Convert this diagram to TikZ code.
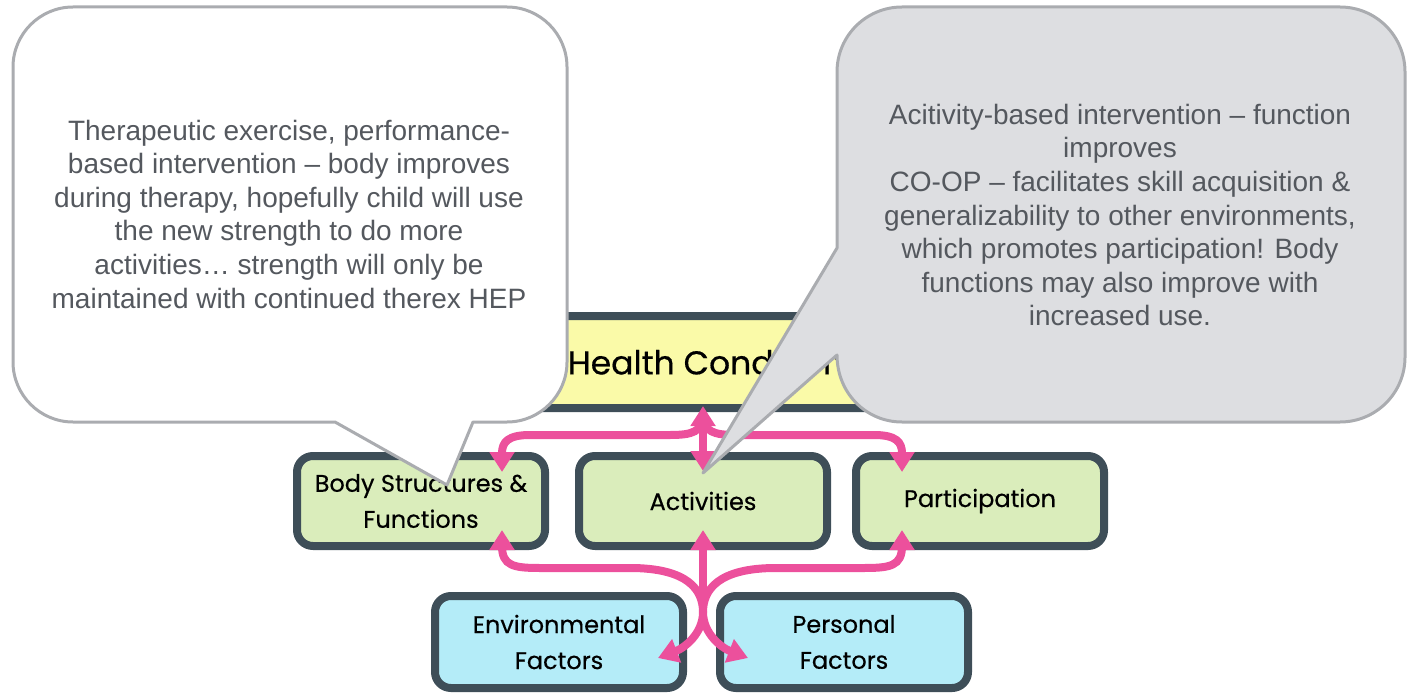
\documentclass[tikz,border=0pt]{standalone}
\usepackage{fontspec}
\setmainfont{Liberation Sans}
\newfontfamily\boxfont[FakeBold=0.4]{Poppins}
\usetikzlibrary{arrows.meta,calc}
\definecolor{dk}{RGB}{62,78,88}
\definecolor{pk}{RGB}{236,80,156}
\definecolor{gf}{RGB}{218,237,187}
\definecolor{bf}{RGB}{180,236,248}
\definecolor{yf}{RGB}{250,250,168}
\definecolor{cg}{RGB}{221,222,225}
\definecolor{cb}{RGB}{170,172,176}
\definecolor{ct}{RGB}{84,88,94}
\begin{document}
\begin{tikzpicture}[x=0.5pt,y=-0.5pt,
  icfbox/.style={draw=dk, line width=4pt, rounded corners=8pt, minimum width=124pt,
    minimum height=45pt, inner sep=0pt, align=center,
    font=\boxfont\fontsize{12}{18}\selectfont},
  greenbox/.style={icfbox, fill=gf},
  bluebox/.style={icfbox, fill=bf},
  parrow/.style={draw=pk, line width=4pt, -{Triangle[width=12pt,length=10pt]}},
  pboth/.style={draw=pk, line width=4pt, {Triangle[width=12pt,length=10pt]}-{Triangle[width=12pt,length=10pt]}},
  callout/.style={draw=cb, line width=1.5pt, line join=round},
  calltext/.style={text=ct, align=center, font=\fontsize{14}{16.8}\selectfont, inner sep=0pt}
]
\useasboundingbox (0,0) rectangle (1412,700);

% boxes
\node[icfbox, fill=yf, minimum width=172pt, minimum height=46pt, rounded corners=4pt,
  font=\boxfont\fontsize{16.5}{20}\selectfont] (hc) at (706,362) {Health Condition};
\node[greenbox] (body) at (421,501) {Body Structures \&\\Functions};
\node[greenbox] (act) at (703,501) {Activities};
\node[greenbox] (part) at (980,501) {Participation};
\node[bluebox, minimum height=46pt] (env) at (559,642) {Environmental\\Factors};
\node[bluebox, minimum height=46pt] (pers) at (844,642) {Personal\\Factors};

% arrow end points
\coordinate (hcTip) at (703,406);
\coordinate (hcOut) at (703,414);
\coordinate (actTop) at (703,471);
\coordinate (bodyTop) at (502,472);
\coordinate (partTop) at (902,472);
\coordinate (bodyBot) at (502,530);
\coordinate (actBot) at (703,530);
\coordinate (partBot) at (902,530);
\coordinate (envTip) at (658,658);
\coordinate (persTip) at (748,658);
\coordinate (cross) at (703,612);

% top connectors
\draw[pboth] (hcTip) -- (actTop);
\draw[parrow] (hcOut) .. controls (703,432) and (692,435) .. (670,435) -- (530,435)
  .. controls (508,435) and (502,442) .. (bodyTop);
\draw[parrow] (hcOut) .. controls (703,432) and (714,435) .. (736,435) -- (874,435)
  .. controls (896,435) and (902,442) .. (partTop);

% bottom connectors
\draw[parrow] (cross) -- (actBot);
\draw[pboth] (bodyBot) -- (502,546) .. controls (502,566) and (514,568) .. (540,568)
  -- (630,568) .. controls (688,568) and (703,590) .. (cross)
  .. controls (703,634) and (722,648) .. (persTip);
\draw[pboth] (partBot) -- (902,546) .. controls (902,566) and (890,568) .. (864,568)
  -- (776,568) .. controls (718,568) and (703,590) .. (cross)
  .. controls (703,634) and (684,648) .. (envTip);

% left callout
\draw[callout, fill=white] (73,7) -- (507,7) .. controls (540,7) and (567,34) .. (567,67)
  -- (567,362) .. controls (567,395) and (540,422) .. (507,422) -- (473,422)
  -- (447,485) -- (335,422) -- (73,422) .. controls (40,422) and (13,395) .. (13,362)
  -- (13,67) .. controls (13,34) and (40,7) .. (73,7) -- cycle;
\node[calltext] (lefttext) at (289,214) {Therapeutic exercise, performance-\\
based intervention – body improves\\
during therapy, hopefully child will use\\
the new strength to do more\\
activities… strength will only be\\
maintained with continued therex HEP};

% right callout
\draw[callout, fill=cg] (902,7) -- (1340,7) .. controls (1376,7) and (1405,36) .. (1405,72)
  -- (1405,357) .. controls (1405,393) and (1376,422) .. (1340,422) -- (902,422)
  .. controls (866,422) and (837,393) .. (837,355) -- (703,473) -- (837,248)
  -- (837,72) .. controls (837,36) and (866,7) .. (902,7) -- cycle;
\node[calltext] (righttext) at (1120,215) {Acitivity-based intervention – function\\
improves\\
CO-OP – facilitates skill acquisition \&\\
generalizability to other environments,\\
which promotes participation! Body\\
functions may also improve with\\
increased use.};
\end{tikzpicture}
\end{document}
